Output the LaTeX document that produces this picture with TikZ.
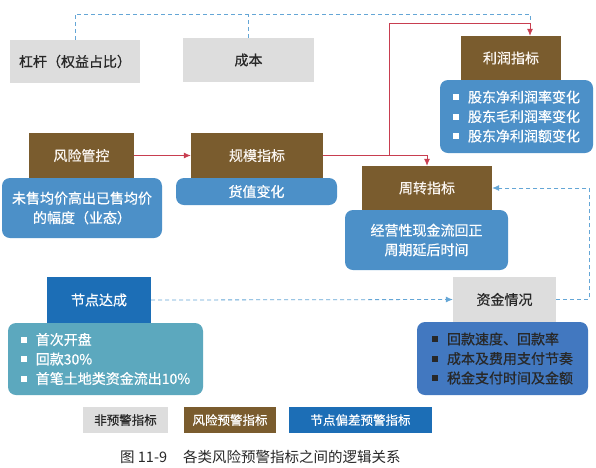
\documentclass[tikz,border=0pt]{standalone}
\usepackage{fontspec}
\setmainfont{Noto Sans CJK SC}[FakeBold=0.6]
\newfontfamily\capfont{Noto Sans CJK SC}
\usetikzlibrary{arrows.meta}
\definecolor{brownc}{RGB}{122,92,46}
\definecolor{boxblue}{RGB}{76,144,200}
\definecolor{tealc}{RGB}{92,168,190}
\definecolor{nodeblue}{RGB}{28,110,182}
\definecolor{grayc}{RGB}{221,221,221}
\definecolor{fundblue}{RGB}{66,120,192}
\definecolor{redc}{RGB}{200,62,80}
\definecolor{dashc}{RGB}{100,166,214}
\definecolor{darkt}{RGB}{40,40,40}
\newcommand\sqb[1]{\textcolor{#1}{\raisebox{0.3ex}{\rule{6pt}{6pt}}}\hspace{9pt}}
\tikzset{
  x=1pt,y=-1pt,
  base/.style={inner sep=0pt, font=\fontsize{14}{19.5}\selectfont, align=center},
  graybox/.style={base, fill=grayc, text=darkt},
  brownbox/.style={base, fill=brownc, text=white!92!brown},
  bluehead/.style={base, fill=nodeblue, text=white},
  roundbox/.style={base, rounded corners=8pt, text=white},
  redline/.style={draw=redc, line width=0.8pt},
  bluedash/.style={draw=dashc, line width=0.8pt, dash pattern=on 4pt off 3pt},
  legend/.style={inner sep=0pt, font=\fontsize{12.5}{15}\selectfont, minimum height=26pt}
}
\begin{document}
\begin{tikzpicture}
\useasboundingbox[fill=white] (0,0) rectangle (596,467);

% rounded content boxes
\node[roundbox, fill=boxblue, minimum width=153pt, minimum height=73pt, align=left] (profitbox) at (516.5,116.5)
  {\sqb{white}股东净利润率变化\\\sqb{white}股东毛利润率变化\\\sqb{white}股东净利润额变化};
\node[roundbox, fill=boxblue, minimum width=160pt, minimum height=60pt] (riskbox) at (82,208)
  {未售均价高出已售均价\\的幅度（业态）};
\node[roundbox, fill=boxblue, minimum width=161pt, minimum height=27pt] (scalebox) at (256.5,191.5) {货值变化};
\node[roundbox, fill=boxblue, minimum width=163pt, minimum height=60pt] (turnbox) at (426.5,240)
  {经营性现金流回正\\周期延后时间};
\node[roundbox, fill=tealc, minimum width=195pt, minimum height=72pt, align=left] (nodebox) at (105.5,359)
  {\sqb{white}首次开盘\\\sqb{white}回款30\%\\\sqb{white}首笔土地类资金流出10\%};
\node[roundbox, fill=fundblue, text=darkt, minimum width=171pt, minimum height=73pt, align=left] (fundbox) at (502.5,358.5)
  {\sqb{darkt}回款速度、回款率\\\sqb{darkt}成本及费用支付节奏\\\sqb{darkt}税金支付时间及金额};

% header boxes
\node[graybox, minimum width=130pt, minimum height=43pt] (lev) at (75,61.5) {杠杆（权益占比）};
\node[graybox, minimum width=131pt, minimum height=44pt] (cost) at (248.5,60) {成本};
\node[brownbox, minimum width=100pt, minimum height=44pt] (profit) at (511,58) {利润指标};
\node[brownbox, minimum width=105pt, minimum height=45pt] (risk) at (81.5,155.5) {风险管控};
\node[brownbox, minimum width=132pt, minimum height=45pt] (scale) at (257,155.5) {规模指标};
\node[brownbox, minimum width=130pt, minimum height=44pt] (turn) at (427,188) {周转指标};
\node[bluehead, minimum width=104pt, minimum height=46pt] (nodeh) at (99,300) {节点达成};
\node[graybox, minimum width=103pt, minimum height=45pt] (fund) at (504.5,299.5) {资金情况};

% connectors
\coordinate (ptop) at ([xshift=19pt]profit.north);
\draw[bluedash] (lev.north) |- (ptop |- 0,14) -- (ptop |- 0,23);
\draw[bluedash] (cost.north) -- (cost.north |- 0,14);
\draw[redline, -{Latex[length=7pt,width=6pt]}] (risk.east) -- (scale.west);
\draw[redline, -{Latex[length=7pt,width=6pt]}] (scale.east) -| (turn.north);
\coordinate (br) at (389,155.5);
\draw[redline, -{Latex[length=7pt,width=6pt]}] (br) |- (ptop |- 0,23) -- (ptop);
\draw[bluedash, -{Latex[length=7pt,width=6pt]}] (nodeh.east) -- (fund.west);
\coordinate (rc) at (589,299.5);
\draw[bluedash, -{Latex[length=7pt,width=6pt]}] (fund.east) -- (rc) |- (turn.east);

% legend
\node[legend, fill=grayc, text=darkt, minimum width=85pt] (l1) at (125.5,420) {非预警指标};
\node[legend, fill=brownc, text=white, minimum width=92pt] (l2) at (230,420) {风险预警指标};
\node[legend, fill=nodeblue, text=white, minimum width=143pt] (l3) at (360.5,420) {节点偏差预警指标};

% caption
\node[inner sep=0pt, font=\capfont\fontsize{14.5}{16}\selectfont, text=darkt, anchor=west] (cap) at (120,457)
  {图 11-9\hspace{16pt}各类风险预警指标之间的逻辑关系};
\end{tikzpicture}
\end{document}
